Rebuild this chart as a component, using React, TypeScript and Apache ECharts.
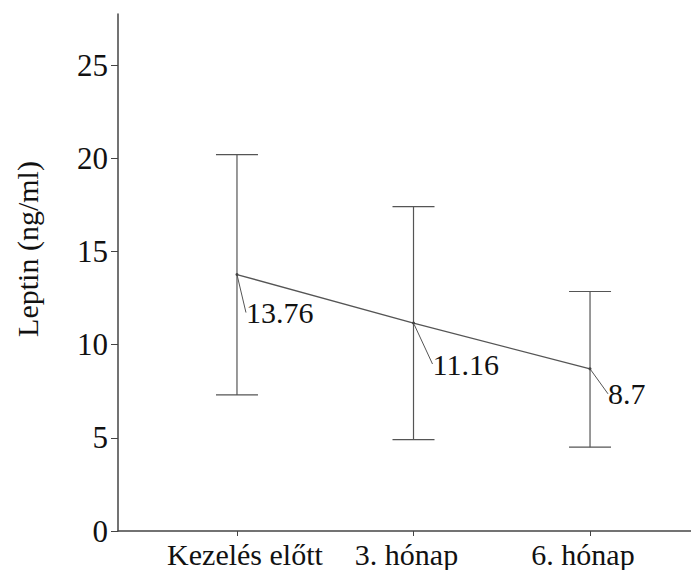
import React, { useEffect, useRef } from "react";
import * as echarts from "echarts";

const categories = ["Kezelés előtt", "3. hónap", "6. hónap"];
const means = [13.76, 11.16, 8.7];
const lower = [7.3, 4.9, 4.5];
const upper = [20.2, 17.4, 12.85];
const yTicks = [0, 5, 10, 15, 20, 25];
const yAxisTitle = "Leptin (ng/ml)";

const FONT = "'Liberation Serif', 'DejaVu Serif', serif";
const labelShift = [
  { dx: 7.5, dy: 38 },
  { dx: 17.5, dy: 41 },
  { dx: 16.5, dy: 25 },
];

export default function App() {
  const ref = useRef<HTMLDivElement>(null);
  useEffect(() => {
    if (!ref.current) return;
    const chart = echarts.init(ref.current, null, { renderer: "svg" });
    const idx = categories.map((_, i) => i);
    chart.setOption({
      animation: false,
      backgroundColor: "#ffffff",
      grid: { left: 118, right: 0, top: 14, bottom: 39, containLabel: false },
      xAxis: {
        type: "value",
        min: -0.674,
        max: 2.572,
        splitLine: { show: false },
        axisLine: { show: true, onZero: false, lineStyle: { color: "#444", width: 1.5 } },
        axisTick: { show: true, customValues: idx, length: 5, lineStyle: { color: "#444", width: 1 } },
        axisLabel: {
          show: true,
          customValues: idx,
          margin: 8,
          color: "#111",
          fontFamily: FONT,
          fontSize: 30,
          formatter: (v: number) => {
            const i = Math.round(v);
            const style = i === 0 ? "a" : "b";
            return `{${style}|${categories[i] ?? ""}}`;
          },
          rich: {
            a: { fontFamily: FONT, fontSize: 30, color: "#111", padding: [0, 0, 0, 16] },
            b: { fontFamily: FONT, fontSize: 30, color: "#111", padding: [0, 14, 0, 0] },
          },
        },
      },
      yAxis: {
        type: "value",
        min: 0,
        max: 27.74,
        interval: 5,
        splitLine: { show: false },
        axisLine: { show: true, onZero: false, lineStyle: { color: "#444", width: 1.5 } },
        axisTick: { show: true, customValues: yTicks, length: 7, lineStyle: { color: "#444", width: 1 } },
        axisLabel: {
          customValues: yTicks,
          margin: 10,
          color: "#111",
          fontFamily: FONT,
          fontSize: 31,
        },
      },
      graphic: [
        {
          type: "text",
          x: 27,
          y: 249,
          rotation: Math.PI / 2,
          style: {
            text: yAxisTitle,
            fontFamily: FONT,
            fontSize: 30,
            fill: "#111",
            textAlign: "center",
            textVerticalAlign: "middle",
          },
        },
      ],
      series: [
        {
          type: "custom",
          renderItem: (params: any, api: any) => {
            const x = api.value(0);
            const top = api.coord([x, api.value(2)]);
            const bot = api.coord([x, api.value(1)]);
            const hw = 21;
            const st = { stroke: "#555", lineWidth: 1.2 };
            return {
              type: "group",
              children: [
                { type: "line", shape: { x1: top[0], y1: top[1], x2: bot[0], y2: bot[1] }, style: st },
                { type: "line", shape: { x1: top[0] - hw, y1: top[1], x2: top[0] + hw, y2: top[1] }, style: st },
                { type: "line", shape: { x1: bot[0] - hw, y1: bot[1], x2: bot[0] + hw, y2: bot[1] }, style: st },
              ],
            };
          },
          data: idx.map((i) => [i, lower[i], upper[i]]),
          z: 2,
        },
        {
          type: "line",
          data: idx.map((i) => [i, means[i]]),
          symbol: "circle",
          symbolSize: 3,
          itemStyle: { color: "#444" },
          lineStyle: { color: "#555", width: 1.3 },
          label: {
            show: true,
            position: "right",
            distance: 0,
            color: "#111",
            fontFamily: FONT,
            fontSize: 30,
            formatter: (p: any) => String(p.value[1]),
          },
          labelLine: { show: true, lineStyle: { color: "#555", width: 1 } },
          labelLayout: (p: any) => labelShift[p.dataIndex] ?? {},
          z: 3,
        },
      ],
    });
    return () => chart.dispose();
  }, []);
  return <div ref={ref} style={{ position: "fixed", left: 0, top: 0, width: 691, height: 570 }} />;
}
